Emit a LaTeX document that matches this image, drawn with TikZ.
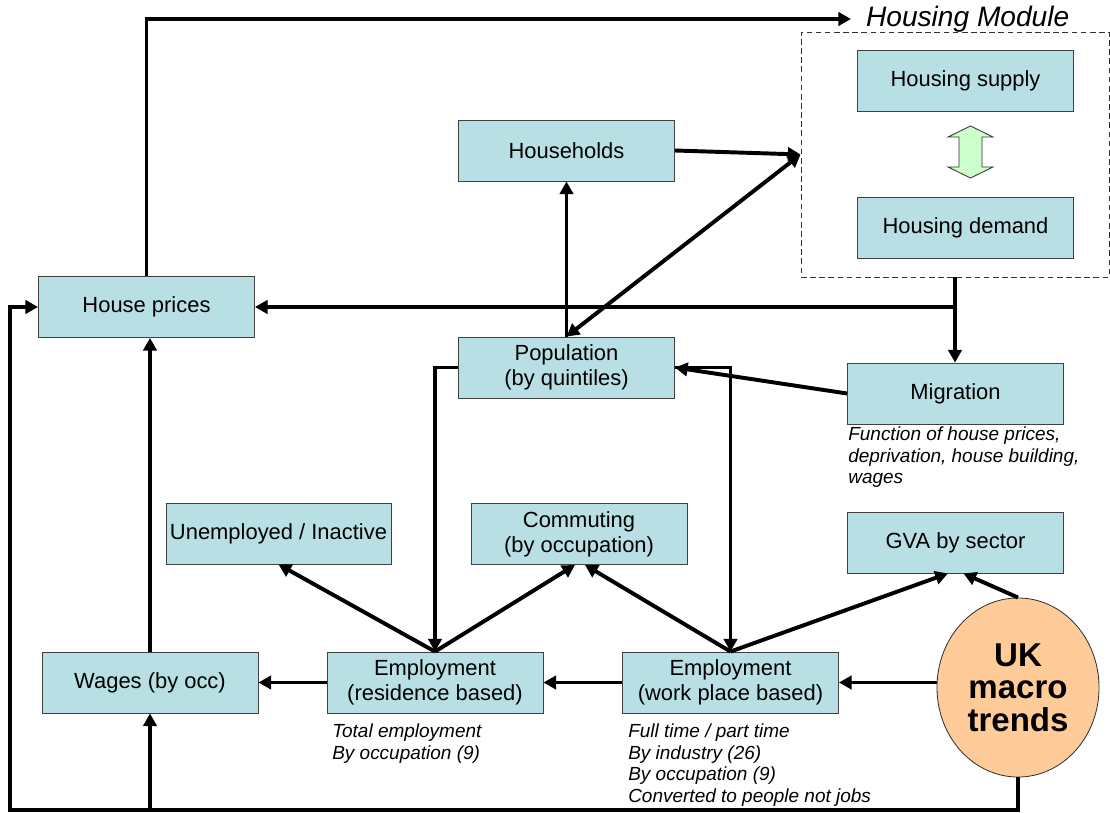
\documentclass[tikz,border=0pt]{standalone}
\usepackage{fontspec}
\setmainfont{Liberation Sans}
\usetikzlibrary{arrows.meta,shapes.geometric}

\definecolor{boxblue}{RGB}{184,224,228}
\definecolor{macroorange}{RGB}{255,204,153}
\definecolor{swapgreen}{RGB}{204,255,204}

\begin{document}
\begin{tikzpicture}[
  x=0.025cm, y=-0.025cm,
  every node/.style={font=\fontsize{15.6}{17.8}\selectfont},
  box/.style={draw=black!75, line width=0.6pt, fill=boxblue, minimum width=5.4cm,
    minimum height=1.525cm, align=center, inner sep=1pt},
  note/.style={font=\fontsize{13.5}{15.4}\selectfont\itshape, align=left,
    anchor=north west, inner sep=0pt},
  flow/.style={line width=2.8pt, -{Triangle[length=9pt,width=9.5pt]}},
  flowboth/.style={line width=2.8pt, {Triangle[length=9pt,width=9.5pt]}-{Triangle[length=9pt,width=9.5pt]}},
]
\useasboundingbox (0,0) rectangle (1110,813);

% housing module frame and its title
\node[draw=black!80, dashed, dash pattern=on 4pt off 2.5pt, line width=0.6pt,
  minimum width=7.7cm, minimum height=6.125cm, inner sep=0pt] (hmod) at (955,154.5) {};
\node[font=\fontsize{20}{22}\selectfont\itshape, anchor=west, inner xsep=10.5pt] (hmlabel)
  at (851,19) {Housing Module};

% boxes: name/x/y/text
\foreach \nm/\x/\y/\txt in {
  hsup/965.5/81/{Housing supply},
  hdem/965.5/228/{Housing demand},
  hh/566.5/150.5/{Households},
  hprice/146.5/307/{House prices},
  pop/566.5/367.5/{Population\\(by quintiles)},
  migr/955.5/393.5/{Migration},
  comm/579/534/{Commuting\\(by occupation)},
  gva/955.5/542.5/{GVA by sector},
  wages/150/682.5/{Wages (by occ)},
  empres/435/682.5/{Employment\\(residence based)},
  empwork/730.5/682.5/{Employment\\(work place based)}} {
  \node[box] (\nm) at (\x,\y) {\txt};
}
\node[box, minimum width=5.625cm] (unemp) at (278.5,533.5) {Unemployed / Inactive};

% the driver
\node[ellipse, draw=black!80, line width=0.6pt, fill=macroorange, minimum width=4.05cm,
  minimum height=4.475cm, inner sep=0pt, align=center,
  font=\fontsize{23.5}{23}\selectfont\bfseries] (macro) at (1018,687.5) {UK\\macro\\trends};

% notes under boxes
\node[note] (migrnote) at (848,426.5) {Function of house prices,\\deprivation, house building,\\wages};
\node[note] (resnote) at (332,723.5) {Total employment\\By occupation (9)};
\node[note] (worknote) at (628,723.5) {Full time / part time\\By industry (26)\\By occupation (9)\\Converted to people not jobs};

% supply <-> demand
\draw[black!80, line width=0.6pt, fill=swapgreen]
  (970.5,126) -- (993,137) -- (982,137) -- (982,167) -- (993,167) -- (970.5,178)
  -- (948,167) -- (959,167) -- (959,137) -- (948,137) -- cycle;

% connectors
\coordinate (loopcorner) at (10,810);
\draw[flow] (hprice.north) |- (hmlabel.west);
\draw[flow] (hh.east) -- (hmod.west);
\draw[flowboth] (pop.north) -- (hmod.west);
\draw[flow] (pop.north) -- (hh.south);
\draw[flow] (hmod.south) -- (hmod.south |- migr.north);
\draw[flow] (hmod.south |- hprice.east) -- (hprice.east);
\draw[flow] (migr.west) -- (pop.east);
\draw[flow] (pop.west) -| (empres.north);
\draw[flow] (pop.east) -| (empwork.north);
\draw[flow] (empres.north) -- (unemp.south);
\draw[flow] (empres.north) -- ([xshift=-0.1cm]comm.south);
\draw[flow] (empwork.north) -- ([xshift=0.15cm]comm.south);
\draw[flow] (empwork.north) -- ([xshift=-0.19cm]gva.south);
\draw[flow] (macro.north) -- ([xshift=0.2cm]gva.south);
\draw[flow] (macro.west |- empwork.east) -- (empwork.east);
\draw[flow] (empwork.west) -- (empres.east);
\draw[flow] (empres.west) -- (wages.east);
\draw[flow] (wages.north) -- (wages.north |- hprice.south);
\draw[flow] (macro.south) |- (loopcorner) |- (hprice.west);
\draw[flow] (wages.south |- loopcorner) -- (wages.south);
\end{tikzpicture}
\end{document}
